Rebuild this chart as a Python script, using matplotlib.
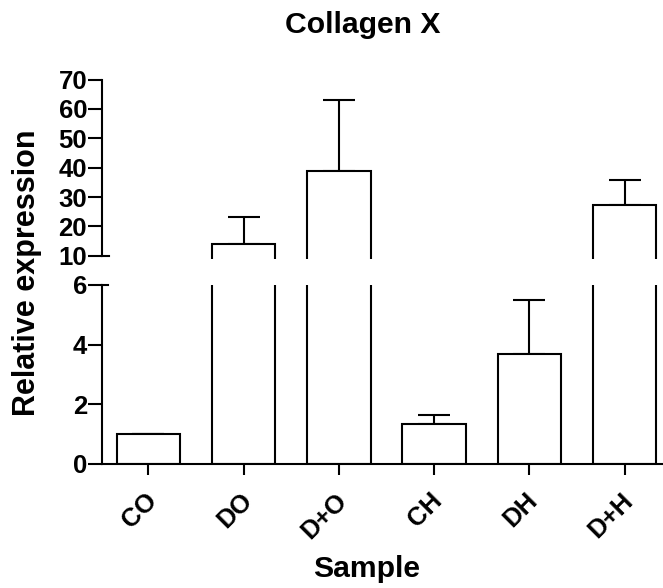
import numpy as np
import matplotlib
matplotlib.use('Agg')
import matplotlib.pyplot as plt
import matplotlib.transforms as mtransforms

plt.rcParams['font.family'] = ['Liberation Sans', 'DejaVu Sans']
plt.rcParams['font.weight'] = 'bold'

samples = ['CO', 'DO', 'D+O', 'CH', 'DH', 'D+H']
means = [1.0, 14.1, 38.8, 1.35, 3.68, 27.2]
sem = [0.0, 9.1, 24.1, 0.29, 1.82, 8.6]

W, H = 663, 588
fig = plt.figure(figsize=(W / 100, H / 100), dpi=100)

x0, x1 = 102, 671
# bottom segment 0..6, top segment 10..70
ax_lo = fig.add_axes([x0 / W, 1 - 463.8 / H, (x1 - x0) / W, (463.8 - 285) / H])
ax_hi = fig.add_axes([x0 / W, 1 - 259.0 / H, (x1 - x0) / W, (259.0 - 79.5) / H])

x = np.arange(len(samples))
lw = 1.5
for ax in (ax_lo, ax_hi):
    ax.bar(x, means, width=0.665, color='white', edgecolor='black', linewidth=lw, zorder=2)
    ax.errorbar(x, means, yerr=[np.zeros(len(sem)), sem], fmt='none', ecolor='black',
                elinewidth=lw, capsize=11.5, capthick=lw, zorder=1)
    ax.set_xlim(-0.487, 5.487)
    ax.spines['right'].set_visible(False)
    ax.spines['top'].set_visible(False)
    for s in ax.spines.values():
        s.set_linewidth(lw)
    ax.tick_params(axis='y', length=9.8, width=lw, labelsize=18.5, pad=1)

ax_lo.set_ylim(0, 6)
ax_lo.set_yticks([0, 2, 4, 6])
ax_lo.set_xticks(x)
ax_lo.set_xticklabels(samples, rotation=45, ha='right', va='center', rotation_mode='anchor')
ax_lo.tick_params(axis='x', length=8, width=lw, labelsize=18.5, pad=16)
shift = mtransforms.ScaledTranslation(4.5 / 100, 0, fig.dpi_scale_trans)
for lab in ax_lo.get_xticklabels():
    lab.set_transform(lab.get_transform() + shift)

ax_hi.set_ylim(8.9, 70)
ax_hi.set_yticks(np.arange(10, 71, 10))
ax_hi.spines['left'].set_bounds(10, 70)
ax_hi.spines['bottom'].set_visible(False)
ax_hi.set_xticks([])

# small marks at the break
ax_hi.axhline(10, xmin=0, xmax=7 / (x1 - x0), color='black', lw=lw, clip_on=False)
ax_lo.axhline(6, xmin=0, xmax=6 / (x1 - x0), color='black', lw=lw, clip_on=False)

fig.text(363 / W, 1 - 33.3 / H, 'Collagen X', ha='center', va='baseline', fontsize=21.7, fontweight='bold')
fig.text(27.5 / W, 1 - 272.8 / H, 'Relative expression', ha='center', va='center',
         rotation=90, fontsize=22, fontweight='bold')
fig.text(366.5 / W, 1 - 576.7 / H, 'Sample', ha='center', va='baseline', fontsize=21.7, fontweight='bold')

fig.savefig('out.png', dpi=100)
